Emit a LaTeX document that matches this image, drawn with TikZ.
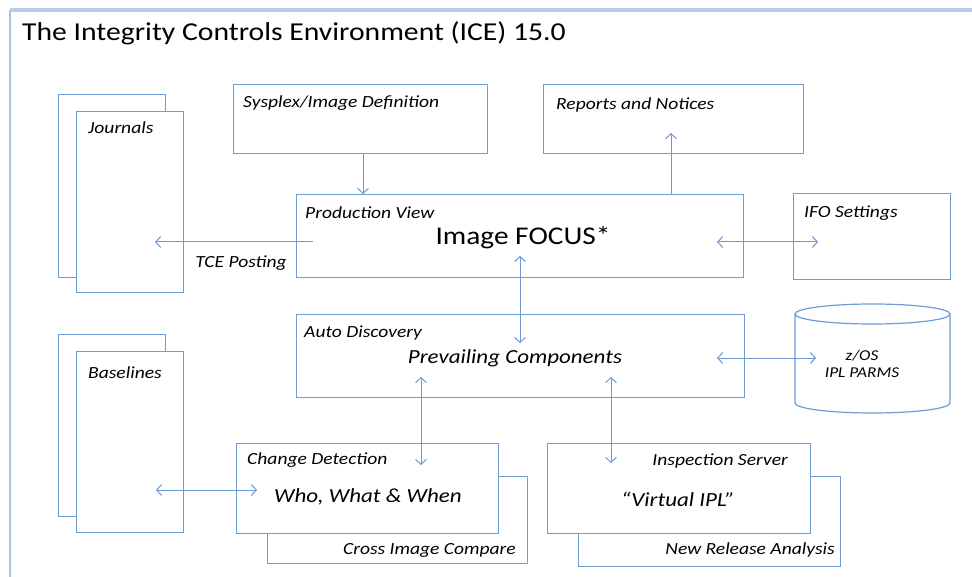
\documentclass[tikz,border=0pt]{standalone}
\usepackage{fontspec}
\setmainfont{Carlito}[FakeStretch=1.15]
\usetikzlibrary{arrows.meta}

\definecolor{boxblue}{HTML}{6F9CD2}
\definecolor{arrblue}{HTML}{6A9AD3}
\definecolor{frameblue}{HTML}{B9CDE5}

\tikzset{
    box/.style={draw=boxblue, line width=1.2pt, fill=white, anchor=north west, inner sep=0pt},
    tag/.style={font=\fontsize{17}{20}\selectfont\itshape, inner sep=0pt},
    big/.style={font=\fontsize{20}{24}\selectfont\itshape, inner sep=0pt},
    arr/.style={draw=arrblue, line width=1pt, -{Straight Barb[length=5pt,width=11pt]}},
    dbl/.style={arr, {Straight Barb[length=5pt,width=11pt]}-{Straight Barb[length=5pt,width=11pt]}},
}

\begin{document}
\begin{tikzpicture}[x=1pt, y=-1pt]
        \useasboundingbox (0,0) rectangle (972,577);

        % Frame and title
        \draw[frameblue, line width=3.5pt] (10,10) -- (972,10);
        \draw[frameblue!80!boxblue, line width=1.5pt] (10,10) -- (10,577);
        \node[anchor=west, inner sep=0pt, font=\fontsize{25.8}{30}\selectfont] (title) at (22,33)
            {The Integrity Controls Environment (ICE) 15.0};

        % Journals (stacked pages)
        \node[box, minimum width=107pt, minimum height=183pt] (jrnback) at (58,94) {};
        \node[box, minimum width=107pt, minimum height=181pt] (jrn) at (76,111) {};
        \node[tag, anchor=west] (jrnlbl) at (88,128) {Journals};

        % Baselines (stacked pages)
        \node[box, minimum width=107pt, minimum height=182pt] (baseback) at (58,334) {};
        \node[box, minimum width=107pt, minimum height=181pt] (base) at (76,351) {};
        \node[tag, anchor=west] (baselbl) at (88,373) {Baselines};

        % Top row
        \node[box, minimum width=254pt, minimum height=69pt] (sysplex) at (233,84) {};
        \node[tag, anchor=west] (sysplexlbl) at (243,103) {Sysplex/Image Definition};
        \node[box, minimum width=260pt, minimum height=69pt] (reports) at (543,84) {};
        \node[tag, anchor=west] (reportslbl) at (556,105) {Reports and Notices};

        % Production view
        \node[box, minimum width=447pt, minimum height=83pt] (prod) at (296,194) {};
        \node[tag, anchor=west] (prodlbl) at (305,213) {Production View};
        \node[inner sep=0pt, font=\fontsize{25.5}{28}\selectfont] (focus) at (523,238) {Image FOCUS*};
        \node[tag] (tcelbl) at (241,263) {TCE Posting};

        % IFO settings
        \node[box, minimum width=157pt, minimum height=86pt] (ifo) at (793,193) {};
        \node[tag, anchor=west] (ifolbl) at (804,213) {IFO Settings};

        % Auto discovery
        \node[box, minimum width=448pt, minimum height=83pt] (auto) at (296,314) {};
        \node[tag, anchor=west] (autolbl) at (304,333) {Auto Discovery};
        \node[big] (prevail) at (515,358) {Prevailing Components};

        % z/OS parms (cylinder)
        \draw[boxblue, line width=1.2pt, fill=white]
            (795,314) -- (795,403) arc[start angle=180, end angle=360, x radius=77.5, y radius=-10]
            -- (950,314);
        \draw[boxblue, line width=1.2pt] (872.5,314) ellipse[x radius=77.5, y radius=10];
        \node[tag, align=center, font=\fontsize{15}{17}\selectfont\itshape] (zos) at (862,364) {z/OS\\IPL PARMS};

        % Change detection
        \node[box, minimum width=260pt, minimum height=87pt] (crossimg) at (267,476) {};
        \node[tag, anchor=east] (crosslbl) at (516,550) {Cross Image Compare};
        \node[box, minimum width=262pt, minimum height=90pt] (change) at (236,443) {};
        \node[tag, anchor=west] (changelbl) at (247,460) {Change Detection};
        \node[big] (who) at (368,497) {Who, What \& When};

        % Inspection server
        \node[box, minimum width=262pt, minimum height=90pt] (newrel) at (578,476) {};
        \node[tag, anchor=east] (newrellbl) at (835,550) {New Release Analysis};
        \node[box, minimum width=263pt, minimum height=90pt] (inspect) at (547,443) {};
        \node[tag, anchor=east] (inspectlbl) at (788,461) {Inspection Server};
        \node[big] (virtual) at (678,499) {“Virtual IPL”};

        % Arrow end points
        \coordinate (c1) at (363,0);
        \coordinate (c2) at (671,0);
        \coordinate (tcefrom) at (313,242);
        \coordinate (tceto) at (155,242);
        \coordinate (ifofrom) at (717,242);
        \coordinate (ifoto) at (818,242);
        \coordinate (focusdn) at (520,256);
        \coordinate (prevup) at (520,343);
        \coordinate (zosfrom) at (717,358);
        \coordinate (zosto) at (816,358);
        \coordinate (chgup) at (421,377);
        \coordinate (chgdn) at (421,465);
        \coordinate (insup) at (611,377);
        \coordinate (insdn) at (611,463);
        \coordinate (basefrom) at (156,490);
        \coordinate (baseto) at (257,490);
        \coordinate (reptip) at (671,133);

        % Connectors
        \draw[arr] (c1 |- sysplex.south) -- (c1 |- prod.north);
        \draw[arr] (c2 |- prod.north) -- (reptip);
        \draw[arr] (tcefrom) -- (tceto);
        \draw[dbl] (ifofrom) -- (ifoto);
        \draw[dbl] (focusdn) -- (prevup);
        \draw[dbl] (zosfrom) -- (zosto);
        \draw[dbl] (chgup) -- (chgdn);
        \draw[dbl] (insup) -- (insdn);
        \draw[dbl] (basefrom) -- (baseto);
    \end{tikzpicture}
\end{document}
